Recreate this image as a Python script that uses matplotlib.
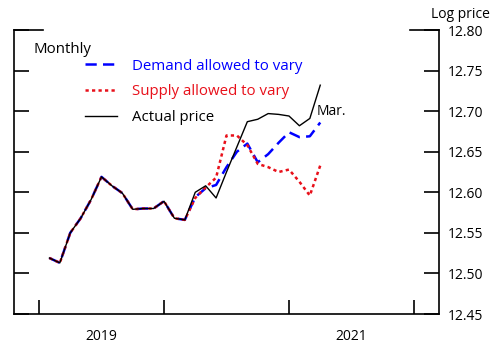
import numpy as np
import matplotlib
matplotlib.use("Agg")
from matplotlib import pyplot as plt

plt.rcParams['font.family'] = ['Open Sans', 'DejaVu Sans']

# months Jan 2019 .. Mar 2021, plotted at end of month (x=1 is end of Jan 2019)
months = np.arange(1, 28)

actual = [12.519, 12.513, 12.550, 12.568, 12.591, 12.619, 12.608, 12.599, 12.579,
          12.580, 12.580, 12.589, 12.568, 12.566, 12.600, 12.608, 12.593, 12.625,
          12.656, 12.687, 12.690, 12.697, 12.696, 12.694, 12.682, 12.691, 12.732]
demand = [12.519, 12.513, 12.550, 12.568, 12.591, 12.619, 12.608, 12.599, 12.579,
          12.580, 12.580, 12.589, 12.568, 12.566, 12.594, 12.605, 12.609, 12.631,
          12.650, 12.660, 12.637, 12.647, 12.661, 12.674, 12.668, 12.669, 12.686]
supply = [12.519, 12.513, 12.550, 12.568, 12.591, 12.619, 12.608, 12.599, 12.579,
          12.580, 12.580, 12.589, 12.568, 12.566, 12.593, 12.606, 12.618, 12.670,
          12.670, 12.658, 12.635, 12.631, 12.625, 12.628, 12.613, 12.596, 12.633]

year_ticks = [0, 12, 24, 36]
year_label_pos = [6, 30]
year_labels = ["2019", "2021"]
yticks = [12.45, 12.50, 12.55, 12.60, 12.65, 12.70, 12.75, 12.80]

fig = plt.figure(figsize=(4.93, 3.49), dpi=100)
ax = fig.add_axes([14/493, 1-314/349, (439-14)/493, (314-30)/349])

ax.plot(months, demand, color="#0000ff", lw=1.8, dashes=(4.5, 2.5),
        label="Demand allowed to vary")
ax.plot(months, supply, color="#e8101a", lw=1.8, dashes=(1.3, 1.3),
        label="Supply allowed to vary")
ax.plot(months, actual, color="black", lw=1.0, label="Actual price")

ax.set_xlim(-2.4, 38.4)
ax.set_ylim(12.45, 12.80)

ax.spines['top'].set_visible(False)
for s in ['left', 'right', 'bottom']:
    ax.spines[s].set_linewidth(1.2)

ax.set_xticks(year_ticks)
ax.set_xticklabels([])
ax.set_xticks(year_label_pos, minor=True)
ax.set_xticklabels(year_labels, minor=True, fontsize=10)
ax.tick_params(axis='x', which='major', direction='in', length=10, width=1.2)
ax.tick_params(axis='x', which='minor', length=0, pad=11)

ax.set_yticks(yticks)
ax.set_yticklabels(["%.2f" % v for v in yticks])
ax.yaxis.tick_right()
ax.tick_params(axis='y', which='major', direction='in', length=10.5, width=1.2,
               left=True, right=True, labelleft=False, labelright=True,
               labelsize=10, pad=6)

# longer tick at top on both sides
ax.plot([0, 0.068], [1, 1], transform=ax.transAxes, color="black", lw=1.2, clip_on=False)
ax.plot([0.932, 1], [1, 1], transform=ax.transAxes, color="black", lw=1.2, clip_on=False)

fig.text(490/493, 1-14/349, "Log price", ha="right", va="center", fontsize=10)
ax.text(0.045, 0.93, "Monthly", transform=ax.transAxes, fontsize=10.8, va="center")
ax.text(26.7, 12.699, "Mar.", fontsize=10, va="center")

ax.legend(loc="upper left", bbox_to_anchor=(85/493, 1-58.5/349),
          bbox_transform=fig.transFigure, frameon=False, fontsize=10.8,
          handlelength=2.15, handletextpad=1.0, labelspacing=0.72,
          borderpad=0, borderaxespad=0,
          labelcolor=["#0000ff", "#e8101a", "black"])

fig.savefig("out.png", dpi=100)
